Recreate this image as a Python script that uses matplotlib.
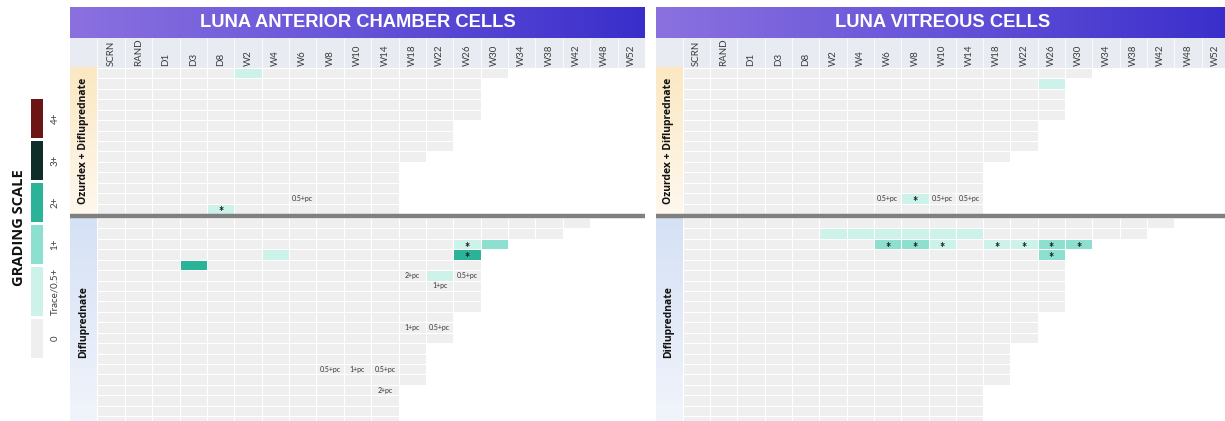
import numpy as np
import numpy.ma as ma
import matplotlib
matplotlib.use("Agg")
import matplotlib.pyplot as plt
from matplotlib.colors import ListedColormap, LinearSegmentedColormap

# ---------------- data ----------------
COLUMNS = ["SCRN", "RAND", "D1", "D3", "D8", "W2", "W4", "W6", "W8", "W10",
           "W14", "W18", "W22", "W26", "W30", "W34", "W38", "W42", "W48", "W52"]
PANEL_TITLES = ["LUNA ANTERIOR CHAMBER CELLS", "LUNA VITREOUS CELLS"]
GROUP_LABELS = ["Ozurdex + Difluprednate", "Difluprednate"]
GRADE_LABELS = ["0", "Trace/0.5+", "1+", "2+", "3+", "4+"]
GRADE_VALUES = [0, 0.5, 1, 2, 3, 4]
GRADE_COLORS = ["#efefef", "#cdf2ea", "#8ddfd0", "#2bb39a", "#0f2e2a", "#6b1515"]

# number of visits available for each patient row
ROWS_COMBO = [15, 14, 14, 14, 14, 13, 13, 13, 12, 11, 11, 11, 11, 11]
ROWS_DIFLU = [18, 17, 15, 14, 14, 14, 14, 14, 14, 13, 13, 13, 12, 12, 12, 12, 11, 11, 11, 11]

# graded cells: (row, visit, grade, marker) ; notes: (row, visit, text)
AC_COMBO_CELLS = [(0, "W2", 0.5, ""), (13, "D8", 0.5, "*")]
AC_COMBO_NOTES = [(12, "W6", "0.5+pc")]
AC_DIFLU_CELLS = [(2, "W26", 0.5, "*"), (2, "W30", 1, ""), (3, "W4", 0.5, ""),
                  (3, "W26", 2, "*"), (4, "D3", 2, ""), (5, "W22", 0.5, "")]
AC_DIFLU_NOTES = [(5, "W18", "2+pc"), (5, "W26", "0.5+pc"), (6, "W22", "1+pc"),
                  (10, "W18", "1+pc"), (10, "W22", "0.5+pc"), (14, "W8", "0.5+pc"),
                  (14, "W10", "1+pc"), (14, "W14", "0.5+pc"), (16, "W14", "2+pc")]

VIT_COMBO_CELLS = [(1, "W26", 0.5, ""), (12, "W8", 0.5, "*")]
VIT_COMBO_NOTES = [(12, "W6", "0.5+pc"), (12, "W10", "0.5+pc"), (12, "W14", "0.5+pc")]
VIT_DIFLU_CELLS = [(1, "W2", 0.5, ""), (1, "W4", 0.5, ""), (1, "W6", 0.5, ""),
                   (1, "W8", 0.5, ""), (1, "W10", 0.5, ""), (1, "W14", 0.5, ""),
                   (2, "W6", 1, "*"), (2, "W8", 1, "*"), (2, "W10", 0.5, "*"),
                   (2, "W18", 0.5, "*"), (2, "W22", 0.5, "*"), (2, "W26", 1, "*"),
                   (2, "W30", 1, "*"), (3, "W26", 1, "*")]
VIT_DIFLU_NOTES = []

PANELS = [
    [(ROWS_COMBO, AC_COMBO_CELLS, AC_COMBO_NOTES), (ROWS_DIFLU, AC_DIFLU_CELLS, AC_DIFLU_NOTES)],
    [(ROWS_COMBO, VIT_COMBO_CELLS, VIT_COMBO_NOTES), (ROWS_DIFLU, VIT_DIFLU_CELLS, VIT_DIFLU_NOTES)],
]

# ---------------- layout / style ----------------
FIG_W, FIG_H = 1225, 421
PANEL_X0 = [70, 655.5]
CELL_W = [27.38, 27.3]
ROW_H = 10.43
TITLE_Y = (7, 38)
HDR_Y0 = 38
HDR_ROWS = 30 / ROW_H
GAP_ROWS = 4 / ROW_H
GROUP_BG = [("#fbe8c2", "#fef8ee"), ("#d5e1f5", "#f2f5fb")]
TEXT_FONT = ["Lato", "DejaVu Sans"]
BOLD_FONT = ["Open Sans", "DejaVu Sans"]
GRID_LW = 0.55

fig = plt.figure(figsize=(FIG_W / 100, FIG_H / 100), dpi=100)
fig.patch.set_facecolor("white")


def px_axes(x0, y0, x1, y1):
    return fig.add_axes([x0 / FIG_W, 1 - y1 / FIG_H, (x1 - x0) / FIG_W, (y1 - y0) / FIG_H])


cmap = ListedColormap(GRADE_COLORS)
title_cmap = LinearSegmentedColormap.from_list("hdr", ["#8b71e0", "#6553d8", "#3a2ecb"])
ncol = len(COLUMNS)

for p, groups in enumerate(PANELS):
    x0 = PANEL_X0[p]
    x1 = x0 + (ncol + 1) * CELL_W[p]
    # ---- title bar
    tax = px_axes(x0, TITLE_Y[0], x1, TITLE_Y[1])
    tax.imshow(np.linspace(0, 1, 256)[None, :], cmap=title_cmap, aspect="auto",
               extent=[0, 1, 0, 1])
    tax.text(0.5, 0.5, PANEL_TITLES[p], color="white", fontsize=13.2, fontweight="bold",
             family=["Liberation Sans", "DejaVu Sans"], ha="center", va="center")
    tax.set_xlim(0, 1)
    tax.set_ylim(0, 1)
    tax.axis("off")

    # ---- grid
    total_rows = len(groups[0][0]) + GAP_ROWS + len(groups[1][0])
    y1 = HDR_Y0 + (HDR_ROWS + total_rows) * ROW_H
    ax = px_axes(x0, HDR_Y0, x1, y1)

    # column header band
    ax.add_patch(plt.Rectangle((-1, -HDR_ROWS), ncol + 1, HDR_ROWS, color="#e8ecf2", lw=0))
    ax.vlines(np.arange(0, ncol + 1), -HDR_ROWS, 0, color="white", lw=GRID_LW)
    for i, c in enumerate(COLUMNS):
        ax.text(i + 0.5, -0.18, c, rotation=90, ha="center", va="bottom",
                fontsize=7, color="#3c3c3c", family=TEXT_FONT)

    y_off = 0
    for g, (row_lens, cells, notes) in enumerate(groups):
        nrows = len(row_lens)
        M = np.full((nrows, ncol), np.nan)
        for r, n in enumerate(row_lens):
            M[r, :n] = 0
        for r, v, grade, _ in cells:
            M[r, COLUMNS.index(v)] = GRADE_VALUES.index(grade)
        ax.pcolormesh(np.arange(ncol + 1), y_off + np.arange(nrows + 1), ma.masked_invalid(M),
                      cmap=cmap, vmin=-0.5, vmax=len(GRADE_COLORS) - 0.5,
                      edgecolors="white", linewidth=GRID_LW)
        for r, v, grade, mark in cells:
            if mark:
                ax.text(COLUMNS.index(v) + 0.5, y_off + r + 1.22, mark, ha="center", va="baseline",
                        fontsize=9, color="#1a1a1a", family=TEXT_FONT, fontweight="bold")
        for r, v, txt in notes:
            ax.text(COLUMNS.index(v) + 0.5, y_off + r + 0.5, txt, ha="center", va="center",
                    fontsize=5, color="#333333", family=TEXT_FONT)
        # group label column
        bg = LinearSegmentedColormap.from_list("bg%d" % g, list(GROUP_BG[g]))
        ax.imshow(np.linspace(0, 1, 128)[:, None], cmap=bg, aspect="auto", origin="upper",
                  extent=[-1, -0.03, y_off + nrows, y_off], zorder=1)
        ax.text(-0.52, y_off + nrows / 2, GROUP_LABELS[g], rotation=90, ha="center", va="center",
                fontsize=7.5, fontweight="bold", color="#111111", family=BOLD_FONT, zorder=3)
        if g == 0:
            ax.plot([-1, ncol], [y_off + nrows + GAP_ROWS / 2] * 2, color="#808080", lw=3.2,
                    solid_capstyle="butt", zorder=5, clip_on=False)
        y_off += nrows + GAP_ROWS

    ax.set_xlim(-1, ncol)
    ax.set_ylim(y_off - GAP_ROWS, -HDR_ROWS)
    ax.axis("off")

# ---------------- grading scale legend ----------------
LEG_H = [39, 49, 39, 39, 39, 39]   # block heights (px), bottom to top
LEG_GAP = 3
lax = px_axes(31, 99, 43, 99 + sum(LEG_H) + LEG_GAP * (len(LEG_H) - 1))
bottom = 0
for h, col, lab in zip(LEG_H, GRADE_COLORS, GRADE_LABELS):
    lax.bar(0, h, bottom=bottom, width=1, color=col, lw=0)
    lax.text(1.5, bottom + h / 2, lab, rotation=90, ha="center", va="center",
             fontsize=7, color="#404040", family=TEXT_FONT, clip_on=False)
    bottom += h + LEG_GAP
lax.set_xlim(-0.5, 0.5)
lax.set_ylim(0, bottom - LEG_GAP)
lax.axis("off")
fig.text(19 / FIG_W, 1 - 228 / FIG_H, "GRADING SCALE", rotation=90, ha="center", va="center",
         fontsize=10.5, fontweight="bold", color="#111111", family=BOLD_FONT)

fig.savefig("out.png", dpi=100)
